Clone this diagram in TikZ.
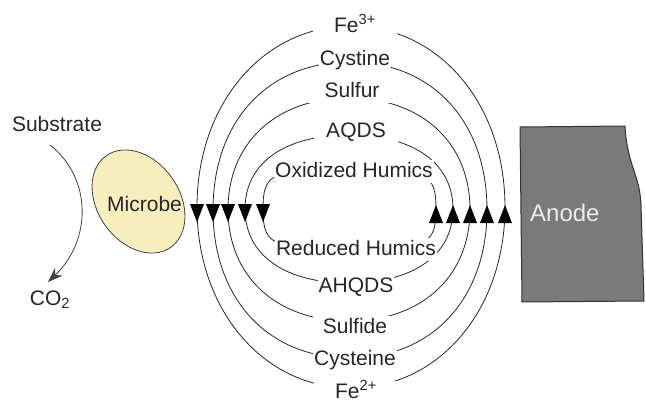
\documentclass[tikz,border=0pt]{standalone}
\usepackage{fontspec}
\setmainfont{Liberation Sans}
\usetikzlibrary{shapes.geometric,arrows.meta}
\definecolor{microbefill}{RGB}{246,238,188}
\definecolor{anodefill}{RGB}{122,122,122}
\newcommand\hloop[5]{%
  \draw[loopline] ({#1+#3},#2) .. controls ({#1+#3},{#2-#5*#4}) and ({#1+#5*#3},{#2-#4}) .. (#1,{#2-#4})
    .. controls ({#1-#5*#3},{#2-#4}) and ({#1-#3},{#2-#5*#4}) .. ({#1-#3},#2)
    .. controls ({#1-#3},{#2+#5*#4}) and ({#1-#5*#3},{#2+#4}) .. (#1,{#2+#4})
    .. controls ({#1+#5*#3},{#2+#4}) and ({#1+#3},{#2+#5*#4}) .. ({#1+#3},#2) -- cycle;}
\begin{document}
\begin{tikzpicture}[x=1pt,y=-1pt,
  loopline/.style={draw=black!85,line width=0.8pt},
  lab/.style={font=\fontsize{21}{24}\selectfont,text=black!85,fill=white,inner sep=1pt,
    text height=16pt,text depth=5pt,anchor=base},
  felab/.style={lab,inner xsep=21pt},
  plain/.style={font=\fontsize{21}{24}\selectfont,text=black!85,inner sep=0pt},
  tri/.style={fill=black}]
\useasboundingbox (0,0) rectangle (646,405);
% loops
\hloop{351}{207}{154}{181}{0.57}
\hloop{350}{210}{137}{148}{0.6}
\hloop{349}{209.5}{121}{111.5}{0.6}
\hloop{349}{209}{104}{74}{0.62}
\hloop{349.5}{209}{86.5}{40}{0.9}
% labels
\node[felab] (fe3) at (355,32) {Fe\textsuperscript{3+}};
\node[lab] (cystine) at (355,65) {Cystine};
\node[lab,inner xsep=16pt] (sulfur) at (352,97) {Sulfur};
\node[lab,inner xsep=12pt] (aqds) at (356,137) {AQDS};
\node[lab] (oxh) at (354,177) {Oxidized Humics};
\node[lab] (redh) at (356,255) {Reduced Humics};
\node[lab] (ahqds) at (356,292) {AHQDS};
\node[lab,inner xsep=10pt] (sulfide) at (355,333) {Sulfide};
\node[lab] (cysteine) at (355,365) {Cysteine};
\node[felab] (fe2) at (356,398) {Fe\textsuperscript{2+}};
% arrowheads
\foreach \x in {197,213,228,245,263}
  \fill[tri] (\x-7,204) -- (\x+7,204) -- (\x,222) -- cycle;
\foreach \x in {436,453,470,487,505}
  \fill[tri] (\x-7,223) -- (\x+7,223) -- (\x,205) -- cycle;
% microbe
\node[ellipse,draw=black!75,line width=0.8pt,fill=microbefill,minimum width=112pt,
  minimum height=82pt,inner sep=0pt,rotate=-55] (microbe) at (138.5,201.5) {};
\node[plain,anchor=base west] (microbetxt) at (107,211) {Microbe};
% substrate
\node[plain,anchor=base] (substrate) at (57,131) {Substrate};
\node[plain,anchor=base] (co2) at (50,305) {CO\textsubscript{2}};
\coordinate (subA) at (50,145);
\coordinate (subB) at (48,282);
\draw[black!75,line width=0.8pt,-{Stealth[length=15pt,width=11pt]}]
  (subA) .. controls (92,178) and (92,240) .. (subB);
% anode
\draw[black!80,line width=1pt,fill=anodefill] (520,127) -- (625,126)
  .. controls (627,165) and (640,175) .. (641,205) -- (644,301) -- (522,302) -- cycle;
\node[font=\fontsize{24}{28}\selectfont,text=white!92!black,inner sep=0pt,anchor=base west]
  (anode) at (530,221) {Anode};
\end{tikzpicture}
\end{document}
